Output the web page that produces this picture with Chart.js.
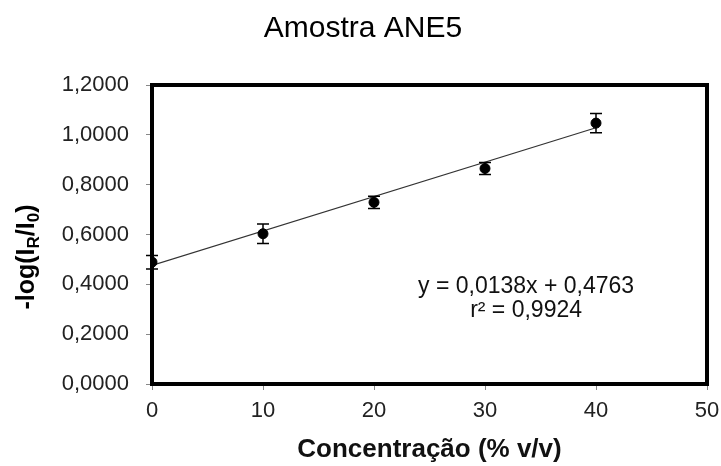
<!DOCTYPE html>
<html lang="pt">
<head>
<meta charset="UTF-8">
<title>Amostra ANE5</title>
<script src="https://cdn.jsdelivr.net/npm/chart.js"></script>
<style>
  html, body { margin: 0; padding: 0; background: #fff; }
  #wrap { width: 721px; height: 466px; }
</style>
</head>
<body>
<div id="wrap"><canvas id="myChart"></canvas></div>
<script>
// dados
const concentracao = [0, 10, 20, 30, 40];
const absorb = [0.489, 0.603, 0.729, 0.865, 1.047];
const erro = [0.027, 0.039, 0.025, 0.024, 0.039];

// linha de tendência (do próprio gráfico)
const slope = 0.0138;
const intercept = 0.4763;
const eqText = 'y = 0,0138x + 0,4763';
const r2Text = 'r² = 0,9924';
const tituloText = 'Amostra ANE5';

const xTicks = [0, 10, 20, 30, 40, 50];
const yTicks = [0, 0.2, 0.4, 0.6, 0.8, 1.0, 1.2];

const FONT = '"Liberation Sans", Arial, sans-serif';

const pontos = concentracao.map((x, i) => ({ x: x, y: absorb[i] }));
const xEnd = concentracao[concentracao.length - 1];
const tendencia = [
  { x: concentracao[0], y: intercept + slope * concentracao[0] },
  { x: xEnd, y: intercept + slope * xEnd },
];

// barras de erro
const errorBars = {
  id: 'errorBars',
  afterDatasetsDraw(chart) {
    const ctx = chart.ctx;
    const xs = chart.scales.x, ys = chart.scales.y;
    ctx.save();
    ctx.strokeStyle = '#000';
    ctx.lineWidth = 1.5;
    concentracao.forEach((x, i) => {
      const px = xs.getPixelForValue(x);
      const top = ys.getPixelForValue(absorb[i] + erro[i]);
      const bot = ys.getPixelForValue(absorb[i] - erro[i]);
      ctx.beginPath();
      ctx.moveTo(px, top); ctx.lineTo(px, bot);
      ctx.moveTo(px - 6, top); ctx.lineTo(px + 6, top);
      ctx.moveTo(px - 6, bot); ctx.lineTo(px + 6, bot);
      ctx.stroke();
    });
    ctx.restore();
  }
};

// moldura, título, equação e título do eixo y
const extras = {
  id: 'extras',
  afterDraw(chart) {
    const ctx = chart.ctx;
    const a = chart.chartArea;
    ctx.save();
    ctx.strokeStyle = '#000';
    ctx.lineWidth = 4;
    ctx.strokeRect(a.left, a.top, a.right - a.left, a.bottom - a.top);

    ctx.fillStyle = '#000';
    ctx.textAlign = 'center';
    ctx.textBaseline = 'middle';
    ctx.font = '30px ' + FONT;
    ctx.fillText(tituloText, 363, 29);

    ctx.fillStyle = '#111';
    ctx.font = '23px ' + FONT;
    const cx = a.left + (a.right - a.left) * 0.674;
    ctx.fillText(eqText, cx, a.top + (a.bottom - a.top) * 0.675);
    ctx.fillText(r2Text, cx, a.top + (a.bottom - a.top) * 0.756);

    // -log(I_R/I_0) com subscritos
    const parts = [
      { t: '-log(I', sub: false },
      { t: 'R', sub: true },
      { t: '/I', sub: false },
      { t: '0', sub: true },
      { t: ')', sub: false },
    ];
    const big = 'bold 25px ' + FONT, small = 'bold 17px ' + FONT;
    let total = 0;
    parts.forEach(p => { ctx.font = p.sub ? small : big; p.w = ctx.measureText(p.t).width; total += p.w; });
    ctx.translate(25, 257);
    ctx.rotate(-Math.PI / 2);
    ctx.textAlign = 'left';
    ctx.textBaseline = 'alphabetic';
    ctx.fillStyle = '#000';
    let px = -total / 2;
    parts.forEach(p => {
      ctx.font = p.sub ? small : big;
      ctx.fillText(p.t, px, p.sub ? 14 : 9);
      px += p.w;
    });
    ctx.restore();
  }
};

const fmt = (v) => v.toFixed(4).replace('.', ',');

new Chart(document.getElementById('myChart'), {
  type: 'scatter',
  data: {
    datasets: [
      {
        label: 'dados',
        data: pontos,
        pointRadius: 5,
        pointHoverRadius: 5,
        backgroundColor: '#000',
        borderColor: '#000',
      },
      {
        label: 'tendência',
        type: 'line',
        data: tendencia,
        showLine: true,
        pointRadius: 0,
        borderColor: '#333',
        borderWidth: 1.2,
        fill: false,
      }
    ]
  },
  options: {
    responsive: true,
    maintainAspectRatio: false,
    animation: false,
    layout: { padding: { left: 0, right: 0, top: 85, bottom: 0 } },
    plugins: {
      legend: { display: false },
      tooltip: { enabled: false },
      title: { display: false },
    },
    scales: {
      x: {
        type: 'linear',
        min: 0, max: 50,
        afterFit: (scale) => {
          scale.height = 82;
          scale.paddingRight = 14;
          scale.paddingLeft = 0;
        },
        afterBuildTicks: (scale) => { scale.ticks = xTicks.map(v => ({ value: v })); },
        ticks: {
          color: '#222',
          font: { family: FONT, size: 22 },
          padding: 8,
        },
        grid: { drawOnChartArea: false, tickLength: 6, color: '#888' },
        border: { display: false },
        title: {
          display: true,
          text: 'Concentração (% v/v)',
          color: '#111',
          font: { family: FONT, size: 26, weight: 'bold' },
          padding: { top: 0, bottom: 1 },
        },
      },
      y: {
        type: 'linear',
        min: 0, max: 1.2,
        afterFit: (scale) => { scale.width = 152; },
        afterBuildTicks: (scale) => { scale.ticks = yTicks.map(v => ({ value: v })); },
        ticks: {
          color: '#222',
          font: { family: FONT, size: 22 },
          padding: 17,
          callback: (v) => fmt(v),
        },
        grid: { drawOnChartArea: false, tickLength: 6, color: '#888' },
        border: { display: false },
      },
    },
  },
  plugins: [errorBars, extras],
});
</script>
</body>
</html>
